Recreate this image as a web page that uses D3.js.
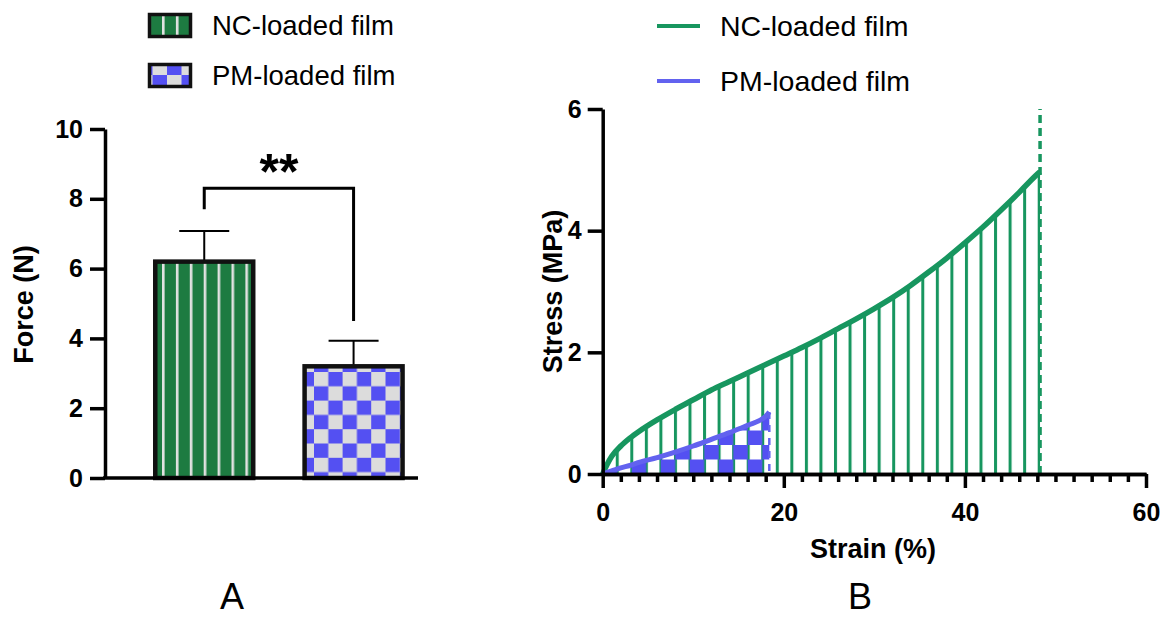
<!DOCTYPE html>
<html>
<head>
<meta charset="utf-8">
<script src="https://cdn.jsdelivr.net/npm/d3@7"></script>
<style>
  body { margin: 0; background: #fff; }
  text { font-family: "Liberation Sans", Arial, Helvetica, sans-serif; fill: #000; }
</style>
</head>
<body>
<script>
const width = 1162;
const height = 619;

// ---- data ----
const groups = ["NC-loaded film", "PM-loaded film"];
const forceMean = [6.2, 3.2];
const forceSD = [0.88, 0.73];
const forceTicks = [0, 2, 4, 6, 8, 10];
// significance bracket: bar y, left leg end, right leg end (N)
const bracketLevels = [8.3, 7.7, 4.5];

const strainNC = [0, 0.5, 1, 2, 3, 4, 6, 8, 10, 12, 14, 16, 18, 20, 22, 24, 26, 28, 30, 32, 34, 36, 38, 40, 42, 44, 46, 48, 48.3];
const stressNC = [0, 0.16, 0.29, 0.46, 0.59, 0.7, 0.89, 1.06, 1.22, 1.38, 1.52, 1.66, 1.8, 1.94, 2.08, 2.23, 2.39, 2.55, 2.72, 2.9, 3.1, 3.32, 3.55, 3.8, 4.06, 4.34, 4.63, 4.93, 4.97];
const strainPM = [0, 1, 2, 3, 4, 6, 8, 10, 12, 14, 16, 18, 18.4];
const stressPM = [0, 0.05, 0.1, 0.14, 0.19, 0.27, 0.36, 0.46, 0.57, 0.68, 0.8, 0.95, 1.02];
const stressTicks = [0, 2, 4, 6];
const strainTicks = [0, 20, 40, 60];
const strainMinor = d3.range(0, 61, 2);

const green = "#1d7b41", stripeLight = "#e2e2e2";
const blue = "#5450f2", checkLight = "#dcdcdc";
const lineGreen = "#17965f", lineBlue = "#6262ef";

const svg = d3.select("body").append("svg").attr("width", width).attr("height", height);
const defs = svg.append("defs");

// 条纹 / 棋盘 patterns
function stripes(id, x0, period, w, bg, fg) {
  const p = defs.append("pattern").attr("id", id).attr("patternUnits", "userSpaceOnUse")
    .attr("x", x0).attr("y", 0).attr("width", period).attr("height", 10);
  if (bg) p.append("rect").attr("width", period).attr("height", 10).attr("fill", bg);
  p.append("rect").attr("x", 0).attr("width", w).attr("height", 10).attr("fill", fg);
}
function checker(id, x0, y0, sw, sh, bg, fg) {
  const p = defs.append("pattern").attr("id", id).attr("patternUnits", "userSpaceOnUse")
    .attr("x", x0).attr("y", y0).attr("width", sw * 2).attr("height", sh * 2);
  if (bg) p.append("rect").attr("width", sw * 2).attr("height", sh * 2).attr("fill", bg);
  p.append("rect").attr("x", sw).attr("y", 0).attr("width", sw).attr("height", sh).attr("fill", fg);
  p.append("rect").attr("x", 0).attr("y", sh).attr("width", sw).attr("height", sh).attr("fill", fg);
}
stripes("stripeA", 162, 13.9, 2.6, green, stripeLight);
checker("checkA", 314, 372, 14.3, 14.3, checkLight, blue);
checker("checkLeg", 138, 15, 14.5, 10, checkLight, blue);

function styleAxis(a, fs) {
  a.select(".domain").attr("stroke-width", 3.5);
  a.selectAll(".tick line").attr("stroke-width", 3.5);
  a.selectAll(".tick text").attr("font-size", fs).attr("font-weight", "bold")
    .attr("font-family", "Liberation Sans, Arial, sans-serif");
}

// ================= Panel A =================
const xA = d3.scaleBand().domain(groups).range([105, 418])
  .paddingInner(0.344).paddingOuter(0.22).align(0.765);
const yA = d3.scaleLinear().domain([0, 10]).range([478, 129]);
const fills = ["url(#stripeA)", "url(#checkA)"];

const gA = svg.append("g");

// error bars (behind bars)
gA.selectAll(".err").data(groups).enter().append("g").each(function(d, i) {
  const cx = xA(d) + xA.bandwidth() / 2;
  const g = d3.select(this);
  g.append("line").attr("x1", cx).attr("x2", cx)
    .attr("y1", yA(forceMean[i])).attr("y2", yA(forceMean[i] + forceSD[i]))
    .attr("stroke", "#000").attr("stroke-width", 2);
  g.append("line").attr("x1", cx - 25).attr("x2", cx + 25)
    .attr("y1", yA(forceMean[i] + forceSD[i])).attr("y2", yA(forceMean[i] + forceSD[i]))
    .attr("stroke", "#000").attr("stroke-width", 2);
});

gA.selectAll(".bar").data(groups).enter().append("rect")
  .attr("x", d => xA(d))
  .attr("y", (d, i) => yA(forceMean[i]))
  .attr("width", xA.bandwidth())
  .attr("height", (d, i) => yA(0) - yA(forceMean[i]))
  .attr("fill", (d, i) => fills[i])
  .attr("stroke", "#111").attr("stroke-width", 4.5);

// axes
const axA = gA.append("g").attr("transform", "translate(105,0)")
  .call(d3.axisLeft(yA).tickValues(forceTicks).tickSize(15).tickSizeOuter(0).tickPadding(7));
styleAxis(axA, 25);

gA.append("line").attr("x1", 103).attr("x2", 418).attr("y1", yA(0)).attr("y2", yA(0))
  .attr("stroke", "#000").attr("stroke-width", 3.5);

gA.append("text").attr("transform", `translate(33,${(yA(0) + yA(10)) / 2 + 1}) rotate(-90)`)
  .attr("text-anchor", "middle").attr("font-size", 27).attr("font-weight", "bold").text("Force (N)");

// significance bracket
const c1 = xA(groups[0]) + xA.bandwidth() / 2, c2 = xA(groups[1]) + xA.bandwidth() / 2;
gA.append("path")
  .attr("d", d3.line()([[c1, yA(bracketLevels[1])], [c1, yA(bracketLevels[0])], [c2, yA(bracketLevels[0])], [c2, yA(bracketLevels[2])]]))
  .attr("fill", "none").attr("stroke", "#000").attr("stroke-width", 3);
gA.append("text").attr("x", (c1 + c2) / 2).attr("y", yA(bracketLevels[0]) + 1)
  .attr("text-anchor", "middle").attr("font-size", 50).attr("font-weight", "bold").text("**");

// legend A
const legA = svg.append("g");
const legFills = ["url(#stripeA)", "url(#checkLeg)"];
groups.forEach((d, i) => {
  legA.append("rect").attr("x", 149.5).attr("y", 14.5 + i * 50).attr("width", 41).attr("height", 22)
    .attr("fill", legFills[i]).attr("stroke", "#111").attr("stroke-width", 3.5);
  legA.append("text").attr("x", 212).attr("y", 35 + i * 50).attr("font-size", 27.5).text(d);
});

svg.append("text").attr("x", 232).attr("y", 609).attr("text-anchor", "middle")
  .attr("font-size", 36).text("A");

// ================= Panel B =================
const xB = d3.scaleLinear().domain([0, 60]).range([602.7, 1146]);
const yB = d3.scaleLinear().domain([0, 6]).range([474, 109]);

stripes("stripeB", xB(0) - 1.5, 14.55, 3, null, lineGreen);
checker("checkB", xB(0), yB(0), 14.5, 14.5, null, blue);

const gB = svg.append("g");
const ncData = strainNC.map((s, i) => [s, stressNC[i]]);
const pmData = strainPM.map((s, i) => [s, stressPM[i]]);

const area = d3.area().x(d => xB(d[0])).y0(yB(0)).y1(d => yB(d[1])).curve(d3.curveMonotoneX);
const line = d3.line().x(d => xB(d[0])).y(d => yB(d[1])).curve(d3.curveMonotoneX);

gB.append("path").datum(ncData).attr("d", area).attr("fill", "url(#stripeB)");
gB.append("path").datum(pmData).attr("d", area).attr("fill", "url(#checkB)");

// drop lines at break
const ncEnd = ncData[ncData.length - 1], pmEnd = pmData[pmData.length - 1];
gB.append("line").attr("x1", xB(ncEnd[0])).attr("x2", xB(ncEnd[0])).attr("y1", yB(0)).attr("y2", yB(6))
  .attr("stroke", lineGreen).attr("stroke-width", 3.5).attr("stroke-dasharray", "8,5");
gB.append("line").attr("x1", xB(pmEnd[0])).attr("x2", xB(pmEnd[0])).attr("y1", yB(pmEnd[1])).attr("y2", yB(0))
  .attr("stroke", lineBlue).attr("stroke-width", 2.5).attr("stroke-dasharray", "7,6");

gB.append("path").datum(ncData).attr("d", line).attr("fill", "none")
  .attr("stroke", lineGreen).attr("stroke-width", 5.5);
gB.append("path").datum(pmData).attr("d", line).attr("fill", "none")
  .attr("stroke", lineBlue).attr("stroke-width", 5);

// axes
const axBy = gB.append("g").attr("transform", `translate(${xB(0)},0)`)
  .call(d3.axisLeft(yB).tickValues(stressTicks).tickFormat(d3.format("d")).tickSize(15).tickSizeOuter(0).tickPadding(6));
const axBxMinor = gB.append("g").attr("transform", `translate(0,${yB(0)})`)
  .call(d3.axisBottom(xB).tickValues(strainMinor.filter(v => v % 20 !== 0)).tickSize(8).tickSizeOuter(0).tickFormat(""));
const axBx = gB.append("g").attr("transform", `translate(0,${yB(0)})`)
  .call(d3.axisBottom(xB).tickValues(strainTicks).tickSize(14).tickSizeOuter(0).tickPadding(15));
[axBy, axBx, axBxMinor].forEach(a => styleAxis(a, 25));

gB.append("text").attr("transform", `translate(562,${(yB(0) + yB(6)) / 2}) rotate(-90)`)
  .attr("text-anchor", "middle").attr("font-size", 27).attr("font-weight", "bold").text("Stress (MPa)");
gB.append("text").attr("x", 873).attr("y", 558).attr("text-anchor", "middle")
  .attr("font-size", 27).attr("font-weight", "bold").text("Strain (%)");

// legend B
const lineColors = [lineGreen, lineBlue];
groups.forEach((d, i) => {
  svg.append("line").attr("x1", 657).attr("x2", 700).attr("y1", 26 + i * 55).attr("y2", 26 + i * 55)
    .attr("stroke", lineColors[i]).attr("stroke-width", 4);
  svg.append("text").attr("x", 720).attr("y", 36 + i * 55).attr("font-size", 28.5).text(d);
});

svg.append("text").attr("x", 860).attr("y", 609).attr("text-anchor", "middle")
  .attr("font-size", 36).text("B");
</script>
</body>
</html>
